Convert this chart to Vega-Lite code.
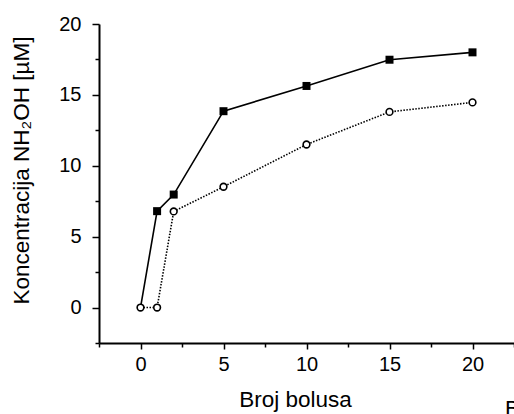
{
  "$schema": "https://vega.github.io/schema/vega-lite/v6.json",
  "width": 415,
  "height": 319,
  "autosize": "none",
  "padding": {"left": 99, "top": 24, "right": 0, "bottom": 71},
  "background": "white",
  "title": {"text": "B", "orient": "bottom", "anchor": "end", "frame": "group", "align": "left", "baseline": "top", "dx": -9, "offset": -12, "font": "Liberation Sans", "fontSize": 22, "fontWeight": "normal", "color": "black"},
  "config": {
    "view": {"stroke": null},
    "font": "Liberation Sans",
    "axis": {
      "domainColor": "black", "domainWidth": 2, "tickColor": "black", "tickWidth": 1.5,
      "labelColor": "black", "labelFont": "Liberation Sans", "labelFontSize": 20,
      "titleColor": "black", "titleFont": "Liberation Sans", "titleFontSize": 22.5, "titleFontWeight": "normal",
      "grid": false
    }
  },
  "data": {"values": [
    {"bolus": 0, "c": 0, "s": "A"},
    {"bolus": 1, "c": 6.8, "s": "A"},
    {"bolus": 2, "c": 7.97, "s": "A"},
    {"bolus": 5, "c": 13.85, "s": "A"},
    {"bolus": 10, "c": 15.63, "s": "A"},
    {"bolus": 15, "c": 17.48, "s": "A"},
    {"bolus": 20, "c": 18.0, "s": "A"},
    {"bolus": 0, "c": 0, "s": "B"},
    {"bolus": 1, "c": 0, "s": "B"},
    {"bolus": 2, "c": 6.78, "s": "B"},
    {"bolus": 5, "c": 8.52, "s": "B"},
    {"bolus": 10, "c": 11.5, "s": "B"},
    {"bolus": 15, "c": 13.8, "s": "B"},
    {"bolus": 20, "c": 14.47, "s": "B"}
  ]},
  "encoding": {
    "x": {"field": "bolus", "type": "quantitative",
      "scale": {"domain": [-2.5, 22.5], "nice": false, "zero": false},
      "axis": {"title": "Broj bolusa", "values": [-2.5, 0, 2.5, 5, 7.5, 10, 12.5, 15, 17.5, 20, 22.5],
        "labelExpr": "datum.value % 5 === 0 ? datum.label : ''",
        "tickSize": {"condition": {"test": "datum.value % 5 !== 0", "value": 4}, "value": 6},
        "labelPadding": 5, "titlePadding": 14, "titleX": 196, "labelFlush": false}},
    "y": {"field": "c", "type": "quantitative",
      "scale": {"domain": [-2.5, 20], "nice": false, "zero": false},
      "axis": {"title": "Koncentracija NH₂OH [µM]", "values": [-2.5, 0, 2.5, 5, 7.5, 10, 12.5, 15, 17.5, 20],
        "labelExpr": "datum.value % 5 === 0 ? datum.label : ''",
        "tickSize": {"condition": {"test": "datum.value % 5 !== 0", "value": 4}, "value": 7},
        "labelPadding": 11, "titlePadding": 25, "titleY": 146, "labelFlush": false}}
  },
  "layer": [
    {"transform": [{"filter": "datum.s === 'A'"}], "mark": {"type": "line", "color": "black", "strokeWidth": 1.6}},
    {"transform": [{"filter": "datum.s === 'B'"}], "mark": {"type": "line", "color": "black", "strokeWidth": 1.6, "strokeDash": [1.5, 1.5]}},
    {"transform": [{"filter": "datum.s === 'A' && datum.c > 0"}], "mark": {"type": "point", "shape": "square", "filled": true, "color": "black", "size": 64, "opacity": 1}},
    {"transform": [{"filter": "datum.s === 'B'"}], "mark": {"type": "point", "shape": "circle", "filled": true, "fill": "white", "stroke": "black", "strokeWidth": 1.6, "size": 45, "opacity": 1}}
  ]
}
